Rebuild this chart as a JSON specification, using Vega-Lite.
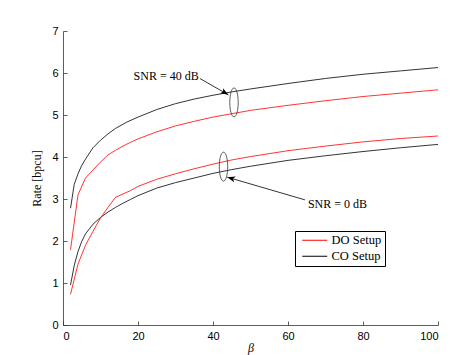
{
  "$schema": "https://vega.github.io/schema/vega-lite/v6.json",
  "width": 375,
  "height": 294,
  "autosize": {"type": "none"},
  "padding": {"left": 63, "top": 31, "right": 12, "bottom": 30},
  "background": "white",
  "config": {
    "view": {"stroke": null},
    "axis": {
      "grid": false,
      "domainColor": "#333333",
      "domainWidth": 0.8,
      "tickColor": "#333333",
      "tickWidth": 0.8,
      "tickSize": -4,
      "labelPadding": 9,
      "labelFont": "Liberation Sans",
      "labelFontSize": 11,
      "labelColor": "#000000",
      "titleFont": "Liberation Serif",
      "titleFontSize": 12,
      "titleFontWeight": "normal",
      "titleColor": "#000000"
    },
    "legend": {
      "orient": "none",
      "legendX": 232,
      "legendY": 200,
      "strokeColor": "#000000",
      "fillColor": "#ffffff",
      "padding": 3,
      "symbolType": "M -0.5 0 L 5.75 0",
      "symbolSize": 64,
      "symbolStrokeWidth": 1,
      "labelFont": "Liberation Serif",
      "labelFontSize": 12.5,
      "labelColor": "#000000",
      "labelOffset": 21,
      "rowPadding": 3
    }
  },
  "datasets": {
    "curves": [
      {"beta": 2, "rate": 2.78, "setup": "CO Setup", "snr": "40 dB"},
      {"beta": 3, "rate": 3.35, "setup": "CO Setup", "snr": "40 dB"},
      {"beta": 4, "rate": 3.6, "setup": "CO Setup", "snr": "40 dB"},
      {"beta": 5, "rate": 3.8, "setup": "CO Setup", "snr": "40 dB"},
      {"beta": 6, "rate": 3.95, "setup": "CO Setup", "snr": "40 dB"},
      {"beta": 8, "rate": 4.22, "setup": "CO Setup", "snr": "40 dB"},
      {"beta": 10, "rate": 4.4, "setup": "CO Setup", "snr": "40 dB"},
      {"beta": 12, "rate": 4.55, "setup": "CO Setup", "snr": "40 dB"},
      {"beta": 14, "rate": 4.68, "setup": "CO Setup", "snr": "40 dB"},
      {"beta": 17, "rate": 4.83, "setup": "CO Setup", "snr": "40 dB"},
      {"beta": 20, "rate": 4.95, "setup": "CO Setup", "snr": "40 dB"},
      {"beta": 25, "rate": 5.13, "setup": "CO Setup", "snr": "40 dB"},
      {"beta": 30, "rate": 5.27, "setup": "CO Setup", "snr": "40 dB"},
      {"beta": 35, "rate": 5.38, "setup": "CO Setup", "snr": "40 dB"},
      {"beta": 40, "rate": 5.47, "setup": "CO Setup", "snr": "40 dB"},
      {"beta": 45, "rate": 5.55, "setup": "CO Setup", "snr": "40 dB"},
      {"beta": 50, "rate": 5.62, "setup": "CO Setup", "snr": "40 dB"},
      {"beta": 60, "rate": 5.75, "setup": "CO Setup", "snr": "40 dB"},
      {"beta": 70, "rate": 5.87, "setup": "CO Setup", "snr": "40 dB"},
      {"beta": 80, "rate": 5.97, "setup": "CO Setup", "snr": "40 dB"},
      {"beta": 90, "rate": 6.05, "setup": "CO Setup", "snr": "40 dB"},
      {"beta": 100, "rate": 6.13, "setup": "CO Setup", "snr": "40 dB"},

      {"beta": 2, "rate": 1.79, "setup": "DO Setup", "snr": "40 dB"},
      {"beta": 4, "rate": 3.1, "setup": "DO Setup", "snr": "40 dB"},
      {"beta": 6, "rate": 3.5, "setup": "DO Setup", "snr": "40 dB"},
      {"beta": 8, "rate": 3.69, "setup": "DO Setup", "snr": "40 dB"},
      {"beta": 10, "rate": 3.88, "setup": "DO Setup", "snr": "40 dB"},
      {"beta": 12, "rate": 4.05, "setup": "DO Setup", "snr": "40 dB"},
      {"beta": 14, "rate": 4.16, "setup": "DO Setup", "snr": "40 dB"},
      {"beta": 16, "rate": 4.26, "setup": "DO Setup", "snr": "40 dB"},
      {"beta": 18, "rate": 4.35, "setup": "DO Setup", "snr": "40 dB"},
      {"beta": 20, "rate": 4.43, "setup": "DO Setup", "snr": "40 dB"},
      {"beta": 25, "rate": 4.6, "setup": "DO Setup", "snr": "40 dB"},
      {"beta": 30, "rate": 4.74, "setup": "DO Setup", "snr": "40 dB"},
      {"beta": 35, "rate": 4.85, "setup": "DO Setup", "snr": "40 dB"},
      {"beta": 40, "rate": 4.95, "setup": "DO Setup", "snr": "40 dB"},
      {"beta": 45, "rate": 5.03, "setup": "DO Setup", "snr": "40 dB"},
      {"beta": 50, "rate": 5.11, "setup": "DO Setup", "snr": "40 dB"},
      {"beta": 60, "rate": 5.23, "setup": "DO Setup", "snr": "40 dB"},
      {"beta": 70, "rate": 5.34, "setup": "DO Setup", "snr": "40 dB"},
      {"beta": 80, "rate": 5.44, "setup": "DO Setup", "snr": "40 dB"},
      {"beta": 90, "rate": 5.52, "setup": "DO Setup", "snr": "40 dB"},
      {"beta": 100, "rate": 5.6, "setup": "DO Setup", "snr": "40 dB"},

      {"beta": 2, "rate": 0.95, "setup": "CO Setup", "snr": "0 dB"},
      {"beta": 3, "rate": 1.42, "setup": "CO Setup", "snr": "0 dB"},
      {"beta": 4, "rate": 1.75, "setup": "CO Setup", "snr": "0 dB"},
      {"beta": 5, "rate": 1.99, "setup": "CO Setup", "snr": "0 dB"},
      {"beta": 6, "rate": 2.17, "setup": "CO Setup", "snr": "0 dB"},
      {"beta": 8, "rate": 2.4, "setup": "CO Setup", "snr": "0 dB"},
      {"beta": 10, "rate": 2.56, "setup": "CO Setup", "snr": "0 dB"},
      {"beta": 12, "rate": 2.69, "setup": "CO Setup", "snr": "0 dB"},
      {"beta": 14, "rate": 2.8, "setup": "CO Setup", "snr": "0 dB"},
      {"beta": 16, "rate": 2.9, "setup": "CO Setup", "snr": "0 dB"},
      {"beta": 18, "rate": 2.99, "setup": "CO Setup", "snr": "0 dB"},
      {"beta": 20, "rate": 3.08, "setup": "CO Setup", "snr": "0 dB"},
      {"beta": 25, "rate": 3.26, "setup": "CO Setup", "snr": "0 dB"},
      {"beta": 30, "rate": 3.39, "setup": "CO Setup", "snr": "0 dB"},
      {"beta": 35, "rate": 3.5, "setup": "CO Setup", "snr": "0 dB"},
      {"beta": 40, "rate": 3.61, "setup": "CO Setup", "snr": "0 dB"},
      {"beta": 45, "rate": 3.7, "setup": "CO Setup", "snr": "0 dB"},
      {"beta": 50, "rate": 3.78, "setup": "CO Setup", "snr": "0 dB"},
      {"beta": 60, "rate": 3.92, "setup": "CO Setup", "snr": "0 dB"},
      {"beta": 70, "rate": 4.03, "setup": "CO Setup", "snr": "0 dB"},
      {"beta": 80, "rate": 4.13, "setup": "CO Setup", "snr": "0 dB"},
      {"beta": 90, "rate": 4.22, "setup": "CO Setup", "snr": "0 dB"},
      {"beta": 100, "rate": 4.3, "setup": "CO Setup", "snr": "0 dB"},

      {"beta": 2, "rate": 0.73, "setup": "DO Setup", "snr": "0 dB"},
      {"beta": 4, "rate": 1.45, "setup": "DO Setup", "snr": "0 dB"},
      {"beta": 6, "rate": 1.9, "setup": "DO Setup", "snr": "0 dB"},
      {"beta": 8, "rate": 2.23, "setup": "DO Setup", "snr": "0 dB"},
      {"beta": 10, "rate": 2.55, "setup": "DO Setup", "snr": "0 dB"},
      {"beta": 12, "rate": 2.8, "setup": "DO Setup", "snr": "0 dB"},
      {"beta": 14, "rate": 3.04, "setup": "DO Setup", "snr": "0 dB"},
      {"beta": 16, "rate": 3.12, "setup": "DO Setup", "snr": "0 dB"},
      {"beta": 18, "rate": 3.2, "setup": "DO Setup", "snr": "0 dB"},
      {"beta": 20, "rate": 3.3, "setup": "DO Setup", "snr": "0 dB"},
      {"beta": 25, "rate": 3.47, "setup": "DO Setup", "snr": "0 dB"},
      {"beta": 30, "rate": 3.6, "setup": "DO Setup", "snr": "0 dB"},
      {"beta": 35, "rate": 3.72, "setup": "DO Setup", "snr": "0 dB"},
      {"beta": 40, "rate": 3.83, "setup": "DO Setup", "snr": "0 dB"},
      {"beta": 45, "rate": 3.93, "setup": "DO Setup", "snr": "0 dB"},
      {"beta": 50, "rate": 4.01, "setup": "DO Setup", "snr": "0 dB"},
      {"beta": 60, "rate": 4.15, "setup": "DO Setup", "snr": "0 dB"},
      {"beta": 70, "rate": 4.26, "setup": "DO Setup", "snr": "0 dB"},
      {"beta": 80, "rate": 4.36, "setup": "DO Setup", "snr": "0 dB"},
      {"beta": 90, "rate": 4.44, "setup": "DO Setup", "snr": "0 dB"},
      {"beta": 100, "rate": 4.5, "setup": "DO Setup", "snr": "0 dB"}
    ],
    "ellipses": [
      {"beta": 45.6, "rate": 5.3},
      {"beta": 42.8, "rate": 3.77}
    ],
    "arrows": [
      {"name": "40", "beta": 36.5, "rate": 5.87, "beta2": 44.1, "rate2": 5.48},
      {"name": "0", "beta": 64.5, "rate": 2.98, "beta2": 43.8, "rate2": 3.52}
    ],
    "labels": [
      {"beta": 27.5, "rate": 5.93, "text": "SNR = 40 dB"},
      {"beta": 73.2, "rate": 2.88, "text": "SNR = 0 dB"}
    ]
  },
  "layer": [
    {
      "data": {"name": "curves"},
      "mark": {"type": "line", "strokeWidth": 0.8, "clip": true},
      "encoding": {
        "x": {
          "field": "beta", "type": "quantitative",
          "scale": {"domain": [0, 100], "nice": false},
          "axis": {"values": [0, 20, 40, 60, 80, 100], "title": "β", "titleFontStyle": "italic", "titlePadding": 1}
        },
        "y": {
          "field": "rate", "type": "quantitative",
          "scale": {"domain": [0, 7], "nice": false},
          "axis": {"values": [0, 1, 2, 3, 4, 5, 6, 7], "title": "Rate [bpcu]", "titlePadding": 8}
        },
        "color": {
          "field": "setup", "type": "nominal",
          "scale": {"domain": ["DO Setup", "CO Setup"], "range": ["#ff0000", "#000000"]},
          "legend": {"title": null}
        },
        "detail": {"field": "snr"}
      }
    },
    {
      "data": {"name": "ellipses"},
      "mark": {
        "type": "point",
        "shape": "M -0.29 0 A 0.29 1 0 1 0 0.29 0 A 0.29 1 0 1 0 -0.29 0 Z",
        "size": 841,
        "filled": false,
        "stroke": "#333333",
        "strokeWidth": 0.8,
        "opacity": 1
      },
      "encoding": {
        "x": {"field": "beta", "type": "quantitative"},
        "y": {"field": "rate", "type": "quantitative"}
      }
    },
    {
      "data": {"name": "arrows"},
      "mark": {"type": "rule", "stroke": "#000000", "strokeWidth": 0.8},
      "encoding": {
        "x": {"field": "beta", "type": "quantitative"},
        "y": {"field": "rate", "type": "quantitative"},
        "x2": {"field": "beta2"},
        "y2": {"field": "rate2"}
      }
    },
    {
      "data": {"name": "arrows"},
      "transform": [{"filter": "datum.name == '40'"}],
      "mark": {
        "type": "point",
        "shape": "M 0 0 L -2 -0.75 L -1.5 0 L -2 0.75 Z",
        "size": 64,
        "filled": true,
        "fill": "#000000",
        "opacity": 1,
        "angle": 30.5
      },
      "encoding": {
        "x": {"field": "beta2", "type": "quantitative"},
        "y": {"field": "rate2", "type": "quantitative"}
      }
    },
    {
      "data": {"name": "arrows"},
      "transform": [{"filter": "datum.name == '0'"}],
      "mark": {
        "type": "point",
        "shape": "M 0 0 L -2 -0.75 L -1.5 0 L -2 0.75 Z",
        "size": 64,
        "filled": true,
        "fill": "#000000",
        "opacity": 1,
        "angle": 196.3
      },
      "encoding": {
        "x": {"field": "beta2", "type": "quantitative"},
        "y": {"field": "rate2", "type": "quantitative"}
      }
    },
    {
      "data": {"name": "labels"},
      "mark": {"type": "text", "font": "Liberation Serif", "fontSize": 12, "color": "#000000", "align": "center", "baseline": "middle"},
      "encoding": {
        "x": {"field": "beta", "type": "quantitative"},
        "y": {"field": "rate", "type": "quantitative"},
        "text": {"field": "text"}
      }
    }
  ]
}
